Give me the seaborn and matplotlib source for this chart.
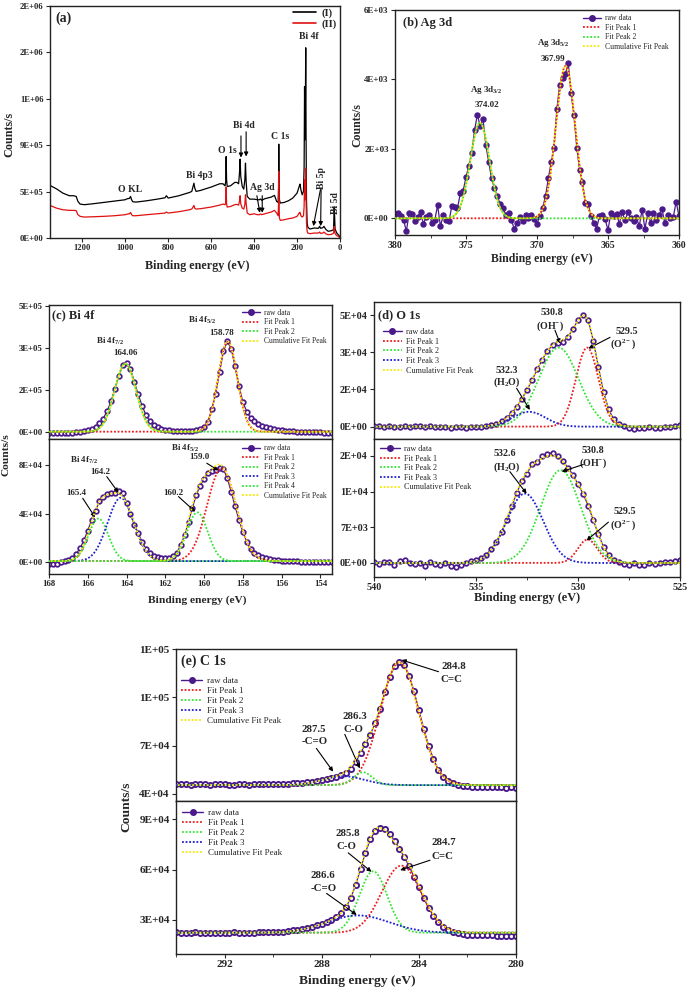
import matplotlib
matplotlib.use("Agg")
import matplotlib.pyplot as plt
from matplotlib.lines import Line2D
from matplotlib.ticker import MultipleLocator
import seaborn as sns
import numpy as np

sns.set_style("ticks")
plt.rcParams["font.family"] = ["Liberation Serif", "DejaVu Serif"]
plt.rcParams["font.weight"] = "bold"
plt.rcParams["mathtext.fontset"] = "custom"
plt.rcParams["mathtext.rm"] = "Liberation Serif:bold"
plt.rcParams["mathtext.it"] = "Liberation Serif:bold"
plt.rcParams["mathtext.bf"] = "Liberation Serif:bold"
plt.rcParams["mathtext.default"] = "rm"

# ---------------- data ----------------
# (a) survey spectra, counts in 1e3
survey_ev = [1350, 1320, 1290, 1260, 1240, 1228, 1220, 1210, 1190, 1150,
             1100, 1050, 1000, 990, 980, 975, 970, 965, 950, 900,
             850, 815, 808, 800, 750, 700, 690, 684, 680, 676,
             670, 650, 600, 560, 545, 535, 532, 530, 528, 525,
             510, 490, 480, 472, 468, 465, 462, 455, 448, 443,
             440, 437, 432, 420, 400, 385, 375, 372, 368, 365,
             350, 320, 305, 295, 288, 286, 285, 284, 282, 278,
             260, 240, 220, 200, 190, 186, 182, 176, 170, 167,
             165, 163, 161, 159.5, 158, 156, 153, 150, 140, 120,
             100, 95, 90, 80, 75, 65, 55, 40, 30, 27,
             25, 23, 15, 8, 0]
survey_I = [510, 477, 435, 410, 410, 403, 355, 329, 323, 332,
            345, 358, 371, 381, 384, 403, 371, 352, 348, 361,
            377, 390, 410, 387, 410, 442, 452, 500, 532, 484,
            452, 461, 494, 526, 526, 506, 548, 790, 565, 500,
            506, 539, 539, 526, 629, 765, 597, 500, 474, 565,
            726, 548, 403, 377, 377, 371, 371, 377, 377, 365,
            381, 397, 413, 355, 345, 500, 910, 629, 371, 339,
            345, 361, 387, 435, 500, 523, 468, 419, 452, 694,
            1468, 952, 1339, 1845, 1016, 371, 145, 106, 87, 97,
            94, 113, 94, 100, 113, 81, 65, 71, 81, 300,
            210, 87, 48, 32, 10]
survey_II = [316, 290, 274, 268, 268, 265, 226, 210, 203, 206,
             210, 216, 226, 232, 235, 248, 226, 216, 216, 226,
             235, 242, 252, 242, 255, 274, 281, 300, 316, 287,
             281, 284, 300, 319, 329, 323, 339, 494, 332, 300,
             306, 323, 326, 319, 355, 410, 332, 290, 281, 323,
             419, 339, 242, 226, 235, 226, 226, 232, 232, 226,
             235, 252, 268, 242, 216, 339, 645, 371, 194, 171,
             177, 187, 194, 210, 242, 248, 216, 203, 216, 306,
             565, 371, 500, 677, 371, 145, 65, 48, 42, 48,
             48, 58, 45, 48, 58, 39, 32, 35, 48, 113,
             81, 42, 23, 16, 0]

# (b) Ag 3d raw, counts, 380.0 eV down in 0.2 eV steps
ag_raw = [120, 150, 60, -40, -370, 160, 130, -90, 50, 170,
          -160, 40, 110, -120, -60, 380, -230, 90, -40, -90,
          350, 330, 290, 720, 800, 1180, 1520, 1870, 2530, 2990,
          2650, 2850, 2100, 1620, 1150, 880, 630, 420, 310, 100,
          150, -60, -300, -130, 40, -70, 90, 20, 110, -20,
          -160, 80, 310, 640, 1150, 1620, 2040, 3150, 3850, 4050,
          4150, 4480, 3600, 2980, 2040, 1400, 1050, 450, 420, 60,
          -120, -300, 80, 110, -30, -340, 150, 60, 120, -150,
          180, -60, 170, 10, -80, 40, -230, 250, -300, 140,
          -120, 160, -50, 100, 280, -140, 90, 20, 40, 480, 60]
ag_center = [367.99, 374.02]
ag_height = [4390, 2750]
ag_fwhm = [1.6, 1.6]

# (c) Bi 4f raw, counts in 1e3, 168.0 eV down in 0.2 eV steps
bi_top_raw = [-4, -4, -4, -3, -3, -2, -1, 0, 2, 4,
              7, 13, 20, 32, 49, 76, 110, 155, 200, 240,
              246, 226, 180, 135, 95, 62, 40, 27, 18, 12,
              9, 7, 6, 5, 5, 5, 5, 6, 8, 11,
              18, 38, 82, 138, 215, 290, 324, 298, 235, 165,
              108, 74, 51, 39, 28, 22, 18, 14, 11, 9,
              7, 5, 4, 3, 2, 2, 1, 1, 0, 0,
              0, -1, -1, -1]
bi_top_center = [158.78, 164.06]
bi_top_height = [322, 243]
bi_top_fwhm = [1.15, 1.3]

bi_bot_raw = [-1, -1, -1, 0, 1, 2, 3.5, 7, 11.5, 18,
              26, 35, 42.5, 50, 54, 56, 57, 57, 58.5, 57,
              49, 39.5, 31, 24, 17, 11, 7.5, 5, 4, 3.3,
              3.3, 3.7, 5, 8, 14.5, 22.5, 33.5, 45, 55.5, 63,
              68.5, 73.5, 75, 76, 77.5, 76.5, 69, 58, 46, 35,
              25, 17, 11, 8, 6, 4.3, 3.3, 2.5, 2, 1.6,
              1.3, 1.1, 1, 0.8, 0.7, 0.6, 0.5, 0.5, 0.4, 0.3,
              0.3, 0.2, 0.1, 0]
bi_bot_center = [159.1, 165.45, 164.3, 160.35]
bi_bot_height = [76, 35, 52, 40]
bi_bot_fwhm = [1.75, 1.21, 1.6, 1.26]

# (d) O 1s raw, counts in 1e3, 540.0 eV down in 0.25 eV steps
o_top_raw = [0.2, 0.1, -0.2, 0.3, 0.0, -0.2, 0.3, -0.1, 0.1, 0.2,
             -0.2, 0.1, 0.0, -0.3, -0.2, -0.4, -0.3, -0.1, -0.4, -0.2,
             -0.1, 0.0, 0.3, 0.7, 1.3, 2.3, 3.8, 5.9, 8.5, 12.0,
             15.8, 20.0, 24.6, 28.8, 32.6, 34.9, 36.0, 36.3, 38.6, 41.8,
             45.9, 48.2, 45.8, 37.0, 25.6, 15.0, 7.4, 3.2, 1.2, 0.2,
             -0.6, -0.9, -0.7, -0.4, -0.2, -0.5, -0.4, -0.2, 0.0, 0.3, 0.8]
o_top_center = [529.55, 530.95, 532.4]
o_top_height = [34, 34, 6.4]
o_top_fwhm = [1.3, 2.3, 1.9]

o_bot_raw = [0.1, -0.2, 0.2, 0.1, -0.3, 0.4, 0.6, 0.0, -0.2, -0.1,
             -0.5, 0.1, -0.2, -0.4, 0.0, -0.6, -0.8, -0.3, 0.0, 0.4,
             0.6, 1.0, 1.6, 2.7, 4.2, 6.0, 8.5, 11.1, 13.8, 16.0,
             17.5, 19.4, 19.7, 20.9, 21.4, 21.6, 20.9, 20.0, 18.7, 17.3,
             15.4, 13.6, 11.2, 8.4, 5.6, 3.2, 1.6, 0.5, 0.2, -0.2,
             -0.3, -0.1, -0.3, -0.4, -0.1, -0.2, 0.0, 0.1, 0.2, 0.3, 0.5]
o_bot_center = [529.53, 530.85, 532.6]
o_bot_height = [4.6, 18.2, 13.6]
o_bot_fwhm = [1.13, 2.3, 2.1]

# (e) C 1s raw, counts in 1e3, 294.0 eV down in 0.2 eV steps
c_top_raw = [46.0, 45.9, 46.1, 45.8, 46.0, 45.9, 46.1, 45.8, 45.9, 46.0,
             46.1, 45.8, 45.7, 45.9, 46.0, 45.8, 45.9, 46.0, 46.1, 46.0,
             46.2, 46.1, 46.3, 46.4, 46.6, 46.7, 47.0, 47.3, 47.7, 48.2,
             48.8, 49.4, 50.0, 50.8, 51.6, 53.0, 55.5, 60.0, 65.5, 71.0,
             76.8, 84.0, 93.0, 103.2, 112.8, 119.2, 121.8, 120.2, 113.5, 103.8,
             92.0, 80.5, 70.0, 61.6, 55.2, 50.8, 48.2, 46.7, 45.8, 45.2,
             44.9, 44.6, 44.5, 44.3, 44.4, 44.2, 44.1, 44.3, 44.0, 44.1, 43.9]
c_top_center = [284.8, 286.3, 287.1]
c_top_height = [76.3, 8.0, 5.5]
c_top_fwhm = [1.85, 0.9, 2.0]

c_bot_raw = [22.6, 22.4, 22.5, 22.3, 22.6, 22.4, 22.5, 22.2, 22.4, 22.5,
             22.3, 22.4, 22.6, 22.5, 22.4, 22.3, 22.5, 22.6, 22.7, 22.6,
             22.8, 23.0, 23.1, 23.5, 23.8, 24.2, 24.5, 25.4, 26.0, 26.9,
             27.8, 29.0, 30.2, 31.8, 34.0, 37.6, 43.2, 51.0, 60.5, 70.2,
             78.0, 82.9, 84.6, 84.2, 81.3, 77.3, 72.4, 67.5, 62.0, 55.8,
             49.4, 43.0, 37.2, 32.4, 28.6, 25.9, 24.0, 22.8, 22.0, 21.6,
             21.3, 21.1, 21.0, 20.9, 20.8, 20.9, 20.6, 20.7, 20.5, 20.4, 20.3]
c_bot_center = [284.72, 285.88, 286.5]
c_bot_height = [40, 36.6, 10.3]
c_bot_fwhm = [1.9, 1.35, 3.0]

# ---------------- style ----------------
W, H = 690, 992
PURPLE = "#4b1a8a"
RED = "#ee1c1c"
GREEN = "#33e633"
BLUE = "#1f1fcf"
YELLOW = "#f5e800"
DOT = (0, (1, 1))
DOT_SHIFT = (1, (1, 1))


def px_rect(l, t, r, b):
    return [l / W, 1 - b / H, (r - l) / W, (b - t) / H]


def gauss(x, c, h, w):
    return h * np.exp(-4 * np.log(2) * ((x - c) / w) ** 2)


def style_axes(ax, tick_size):
    for sp in ax.spines.values():
        sp.set_visible(True)
        sp.set_linewidth(1.0)
        sp.set_color("#222222")
    ax.tick_params(direction="out", length=3, width=0.8, labelsize=tick_size, pad=1.5)
    ax.tick_params(which="minor", direction="out", length=1.8, width=0.6)
    ax.set_xlabel("")
    ax.set_ylabel("")


def spectrum(ax, start, step, raw, scale, centers, heights, fwhms, colors,
             base, lo, hi, ms=3.3, mew=1.25, mfc="white"):
    x = start - step * np.arange(len(raw))
    y = np.array(raw, dtype=float) * scale
    sns.lineplot(x=x, y=y, ax=ax, color=PURPLE, linewidth=0.9, marker="o",
                 markersize=ms, markerfacecolor=mfc, markeredgecolor=PURPLE,
                 markeredgewidth=mew, sort=False, estimator=None, legend=False, zorder=2)
    xf = np.linspace(hi, lo, 800)
    total = np.zeros_like(xf)
    for c, h, w, col in zip(centers, heights, fwhms, colors):
        g = gauss(xf, c, h, w)
        total += g
        ax.plot(xf, (base + g) * scale, color=col, lw=1.3, ls=DOT, zorder=3)
    ax.plot(xf, (base + total) * scale, color=YELLOW, lw=1.3, ls=DOT_SHIFT, zorder=4)


def fit_legend(ax, labels, colors, anchor, size, spacing=0.2):
    handles = [Line2D([], [], color=PURPLE, lw=1.0, marker="o", ms=4,
                      mfc=PURPLE, mec=PURPLE)]
    for col in colors:
        handles.append(Line2D([], [], color=col, lw=1.3, ls=DOT))
    handles.append(Line2D([], [], color=YELLOW, lw=1.3, ls=DOT))
    ax.legend(handles, ["raw data"] + labels + ["Cumulative Fit Peak"],
              loc="upper left", bbox_to_anchor=anchor, frameon=False,
              prop={"size": size, "weight": "normal"}, handlelength=2.4,
              handletextpad=0.5, labelspacing=spacing, borderpad=0, borderaxespad=0)


def arrow(ax, start, end):
    ax.annotate("", xy=end, xytext=start,
                arrowprops=dict(arrowstyle="-|>", color="black", lw=0.8,
                                mutation_scale=6, shrinkA=0, shrinkB=0))


fig = plt.figure(figsize=(6.9, 9.92), dpi=100)


def fig_text(x, y, s, size, rot=0):
    fig.text(x / W, 1 - y / H, s, ha="center", va="center", fontsize=size, rotation=rot)


# ---------------- (a) survey ----------------
ax = fig.add_axes(px_rect(50, 6, 340, 238))
sns.lineplot(x=survey_ev, y=np.array(survey_I) * 1e3, ax=ax, color="black", lw=0.9,
             sort=False, estimator=None, legend=False)
sns.lineplot(x=survey_ev, y=np.array(survey_II) * 1e3, ax=ax, color="#e01010", lw=0.9,
             sort=False, estimator=None, legend=False)
style_axes(ax, 6.2)
ax.set_xlim(1350, 0)
ax.set_ylim(0, 2.25e6)
ax.set_xticks([1200, 1000, 800, 600, 400, 200, 0])
ax.set_yticks([0, 4.5e5, 9e5, 1.35e6, 1.8e6, 2.25e6],
              ["0E+00", "5E+05", "9E+05", "1E+06", "2E+06", "2E+06"])
ax.legend([Line2D([], [], color="black", lw=1.2), Line2D([], [], color="#e01010", lw=1.2)],
          ["(I)", "(II)"], loc="upper left", bbox_to_anchor=(0.838, 0.99), frameon=False,
          prop={"size": 7.5, "weight": "bold"}, handlelength=2.2, handletextpad=0.5,
          labelspacing=0.15, borderpad=0, borderaxespad=0)
ax.text(0.017, 0.975, "(a)", transform=ax.transAxes, fontsize=10, va="top")
kw = dict(ha="center", va="center", fontsize=7)
ax.text(975, 4.68e5, "O KL", **kw)
ax.text(653, 6.1e5, "Bi 4p3", **kw)
ax.text(526, 8.5e5, "O 1s", **kw)
ax.text(449, 1.09e6, "Bi 4d", **kw)
ax.text(279, 9.8e5, "C 1s", **kw)
ax.text(361, 4.9e5, "Ag 3d", **kw)
ax.text(147, 1.95e6, "Bi 4f", **kw)
ax.text(85, 5.8e5, "Bi 5p", rotation=90, **kw)
ax.text(23, 3.4e5, "Bi 5d", rotation=90, **kw)
arrow(ax, (461, 9.9e5), (461, 7.8e5))
arrow(ax, (437, 1.03e6), (437, 7.9e5))
arrow(ax, (387, 4.1e5), (373, 2.45e5))
arrow(ax, (362, 4.1e5), (362, 2.45e5))
arrow(ax, (91, 4.7e5), (124, 1.15e5))
arrow(ax, (88, 4.7e5), (90, 1.15e5))
fig_text(9, 134, "Counts/s", 8.7, 90)
fig_text(197, 266, "Binding energy (eV)", 8.7)

# ---------------- (b) Ag 3d ----------------
ax = fig.add_axes(px_rect(395, 10, 679, 235))
spectrum(ax, 380.0, 0.2, ag_raw, 1.0, ag_center, ag_height, ag_fwhm, [RED, GREEN],
         0.0, 360, 380, ms=3.6, mew=1.0, mfc=PURPLE)
style_axes(ax, 6.5)
ax.tick_params(axis="x", labelsize=7)
ax.set_xlim(380, 360)
ax.set_ylim(-480, 6000)
ax.set_xticks([380, 375, 370, 365, 360])
ax.xaxis.set_minor_locator(MultipleLocator(2.5))
ax.set_yticks([0, 2000, 4000, 6000], ["0E+00", "2E+03", "4E+03", "6E+03"])
fit_legend(ax, ["Fit Peak 1", "Fit Peak 2"], [RED, GREEN], (0.661, 0.981), 5.6)
ax.text(0.028, 0.97, "(b) Ag 3d", transform=ax.transAxes, fontsize=9, va="top")
kw = dict(ha="center", va="center", fontsize=6.5)
ax.text(373.55, 3.7e3, r"Ag 3d$_{3/2}$", **kw)
ax.text(373.55, 3.25e3, "374.02", **kw)
ax.text(368.86, 5.05e3, r"Ag 3d$_{5/2}$", **kw)
ax.text(368.86, 4.6e3, "367.99", **kw)
fig_text(357, 125, "Counts/s", 8.5, 90)
fig_text(542, 259, "Binding energy (eV)", 8.5)

# ---------------- (c) Bi 4f ----------------
ax = fig.add_axes(px_rect(49, 305, 332, 439))
spectrum(ax, 168.0, 0.2, bi_top_raw, 1e3, bi_top_center, bi_top_height, bi_top_fwhm,
         [RED, GREEN], 2.0, 153.4, 168)
style_axes(ax, 6.3)
ax.set_xlim(168, 153.4)
ax.set_ylim(-2.4e4, 4.54e5)
ax.tick_params(axis="x", which="both", length=0, labelbottom=False)
ax.set_yticks([0, 1.5e5, 3e5, 4.5e5], ["0E+00", "2E+05", "3E+05", "5E+05"])
fit_legend(ax, ["Fit Peak 1", "Fit Peak 2"], [RED, GREEN], (0.682, 0.972), 5.5)
ax.text(0.011, 0.97, "(c) Bi 4f", transform=ax.transAxes, fontsize=9, va="top")
kw = dict(ha="center", va="center", fontsize=6.5)
ax.text(164.85, 3.23e5, r"Bi 4f$_{7/2}$", **kw)
ax.text(164.08, 2.81e5, "164.06", **kw)
ax.text(160.12, 3.98e5, r"Bi 4f$_{5/2}$", **kw)
ax.text(159.08, 3.53e5, "158.78", **kw)

ax = fig.add_axes(px_rect(49, 439, 332, 574))
spectrum(ax, 168.0, 0.2, bi_bot_raw, 1e3, bi_bot_center, bi_bot_height, bi_bot_fwhm,
         [RED, GREEN, BLUE, GREEN], 1.0, 153.4, 168)
style_axes(ax, 6.3)
ax.set_xlim(168, 153.4)
ax.set_ylim(-9.6e3, 1.013e5)
ax.set_xticks([168, 166, 164, 162, 160, 158, 156, 154])
ax.set_yticks([0, 4e4, 8e4], ["0E+00", "4E+04", "8E+04"])
fit_legend(ax, ["Fit Peak 1", "Fit Peak 2", "Fit Peak 3", "Fit Peak 4"],
           [RED, GREEN, BLUE, GREEN], (0.682, 0.961), 5.5)
ax.text(166.2, 8.36e4, r"Bi 4f$_{7/2}$", **kw)
ax.text(165.33, 7.45e4, "164.2", **kw)
ax.text(166.6, 5.67e4, "165.4", **kw)
ax.text(160.98, 9.37e4, r"Bi 4f$_{5/2}$", **kw)
ax.text(160.24, 8.63e4, "159.0", **kw)
ax.text(161.58, 5.73e4, "160.2", **kw)
arrow(ax, (166.26, 5.26e4), (165.62, 3.7e4))
arrow(ax, (165.02, 7.04e4), (164.42, 5.73e4))
arrow(ax, (159.86, 8.14e4), (159.26, 7.54e4))
arrow(ax, (161.32, 5.4e4), (160.46, 4.16e4))
fig_text(6, 455, "Counts/s", 8.2, 90)
fig_text(197, 600, "Binding energy (eV)", 8.2)

# ---------------- (d) O 1s ----------------
ax = fig.add_axes(px_rect(374, 302, 680, 439))
spectrum(ax, 540.0, 0.25, o_top_raw, 1e3, o_top_center, o_top_height, o_top_fwhm,
         [RED, GREEN, BLUE], 0.0, 525, 540)
style_axes(ax, 7.3)
ax.set_xlim(540, 525)
ax.set_ylim(-5.3e3, 5.36e4)
ax.tick_params(axis="x", which="both", length=0, labelbottom=False)
ax.set_yticks([0, 1.6e4, 3.2e4, 4.8e4], ["0E+00", "2E+04", "3E+04", "5E+04"])
fit_legend(ax, ["Fit Peak 1", "Fit Peak 2", "Fit Peak 3"], [RED, GREEN, BLUE],
           (0.028, 0.81), 5.9)
ax.text(0.013, 0.95, "(d) O 1s", transform=ax.transAxes, fontsize=9, va="top")
kw = dict(ha="center", va="center", fontsize=7.2)
ax.text(531.29, 4.9e4, "530.8", **kw)
ax.text(531.37, 4.32e4, r"(OH$^{-}$)", **kw)
ax.text(527.61, 4.08e4, "529.5", **kw)
ax.text(527.77, 3.54e4, r"(O$^{2-}$)", **kw)
ax.text(533.5, 2.41e4, "532.3", **kw)
ax.text(533.5, 1.93e4, r"(H$_2$O)", **kw)
arrow(ax, (531.13, 4.15e4), (530.88, 3.58e4))
arrow(ax, (528.43, 3.84e4), (529.49, 3.36e4))
arrow(ax, (533.01, 1.65e4), (532.36, 7.2e3))

ax = fig.add_axes(px_rect(374, 439, 680, 577))
spectrum(ax, 540.0, 0.25, o_bot_raw, 1e3, o_bot_center, o_bot_height, o_bot_fwhm,
         [RED, GREEN, BLUE], 0.0, 525, 540)
style_axes(ax, 7.3)
ax.set_xlim(540, 525)
ax.set_ylim(-2.75e3, 2.43e4)
ax.set_xticks([540, 535, 530, 525])
ax.xaxis.set_minor_locator(MultipleLocator(2.5))
ax.set_yticks([0, 7e3, 1.4e4, 2.1e4], ["0E+00", "7E+03", "1E+04", "2E+04"])
fit_legend(ax, ["Fit Peak 1", "Fit Peak 2", "Fit Peak 3"], [RED, GREEN, BLUE],
           (0.02, 0.957), 5.9)
ax.text(533.58, 2.15e4, "532.6", **kw)
ax.text(533.5, 1.88e4, r"(H$_2$O)", **kw)
ax.text(529.25, 2.21e4, "530.8", **kw)
ax.text(529.25, 1.95e4, r"(OH$^{-}$)", **kw)
ax.text(527.69, 1.0e4, "529.5", **kw)
ax.text(527.77, 7.4e3, r"(O$^{2-}$)", **kw)
arrow(ax, (533.34, 1.79e4), (532.52, 1.36e4))
arrow(ax, (529.74, 1.93e4), (530.8, 1.79e4))
arrow(ax, (528.51, 8.0e3), (529.58, 4.4e3))
fig_text(527, 598, "Binding energy (eV)", 8.8)

# ---------------- (e) C 1s ----------------
ax = fig.add_axes(px_rect(176, 649, 516, 801))
spectrum(ax, 294.0, 0.2, c_top_raw, 1e3, c_top_center, c_top_height, c_top_fwhm,
         [RED, GREEN, BLUE], 45.5, 280, 294, ms=3.7, mew=1.35)
style_axes(ax, 8)
ax.set_xlim(294, 280)
ax.set_ylim(3.565e4, 1.3e5)
ax.tick_params(axis="x", which="both", length=0, labelbottom=False)
ax.set_yticks([4e4, 7e4, 1e5, 1.3e5], ["4E+04", "7E+04", "1E+05", "1E+05"])
fit_legend(ax, ["Fit Peak 1", "Fit Peak 2", "Fit Peak 3"], [RED, GREEN, BLUE],
           (0.014, 0.819), 6.5)
ax.text(0.015, 0.965, "(e) C 1s", transform=ax.transAxes, fontsize=10, va="top")
kw = dict(ha="center", va="center", fontsize=7.8)
ax.text(282.57, 1.19e5, "284.8", **kw)
ax.text(282.64, 1.108e5, "C=C", **kw)
ax.text(286.63, 8.8e4, "286.3", **kw)
ax.text(286.7, 8.01e4, "C-O", **kw)
ax.text(288.33, 8.01e4, "287.5", **kw)
ax.text(288.28, 7.25e4, "-C=O", **kw)
arrow(ax, (283.19, 1.159e5), (284.71, 1.232e5))
arrow(ax, (287.05, 7.7e4), (286.43, 5.59e4))
arrow(ax, (288.22, 6.83e4), (287.53, 5.39e4))

ax = fig.add_axes(px_rect(176, 801, 516, 954))
spectrum(ax, 294.0, 0.2, c_bot_raw, 1e3, c_bot_center, c_bot_height, c_bot_fwhm,
         [RED, GREEN, BLUE], 22.4, 280, 294, ms=3.7, mew=1.35)
style_axes(ax, 8)
ax.set_xlim(294, 280)
ax.set_ylim(9.7e3, 1.009e5)
ax.set_xticks([292, 288, 284, 280])
ax.xaxis.set_minor_locator(MultipleLocator(2))
ax.set_yticks([3e4, 6e4, 9e4], ["3E+04", "6E+04", "9E+04"])
fit_legend(ax, ["Fit Peak 1", "Fit Peak 2", "Fit Peak 3"], [RED, GREEN, BLUE],
           (0.017, 0.951), 6.5)
ax.text(286.91, 8.15e4, "285.8", **kw)
ax.text(286.98, 7.36e4, "C-O", **kw)
ax.text(282.99, 7.59e4, "284.7", **kw)
ax.text(283.01, 6.8e4, "C=C", **kw)
ax.text(287.97, 5.67e4, "286.6", **kw)
ax.text(287.91, 4.88e4, "-C=O", **kw)
arrow(ax, (286.91, 7.0e4), (285.95, 5.87e4))
arrow(ax, (283.54, 6.56e4), (284.77, 5.97e4))
arrow(ax, (287.8, 4.58e4), (286.56, 3.3e4))
fig_text(126, 807, "Counts/s", 9.7, 90)
fig_text(357, 981, "Binding energy (eV)", 9.7)

fig.savefig("out.png", dpi=100)
